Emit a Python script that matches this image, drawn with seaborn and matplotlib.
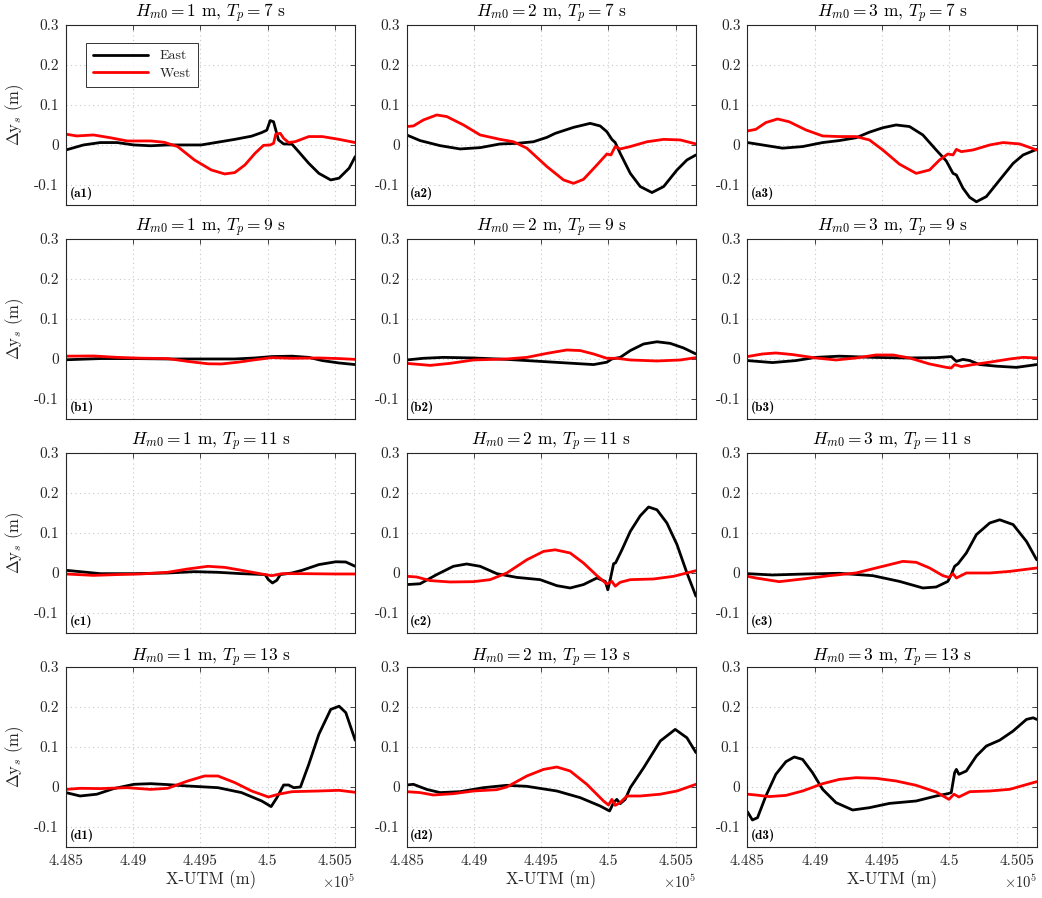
import numpy as np
import pandas as pd
import matplotlib
matplotlib.use("Agg")
import matplotlib.pyplot as plt
import seaborn as sns

# ---------------- data ----------------
a1_east_x = [448500, 448630, 448755, 448880, 449005, 449130, 449255, 449505, 449630, 449755, 449880, 449955, 449993, 450018, 450043, 450060, 450080, 450118, 450180, 450230, 450305, 450380, 450468, 450530, 450605, 450650]
a1_east_y = [-0.0125, 0, 0.006, 0.006, 0, -0.002, 0, 0, 0.007, 0.014, 0.022, 0.031, 0.037, 0.061, 0.058, 0.037, 0.0125, 0.0025, 0.002, -0.017, -0.046, -0.071, -0.0875, -0.083, -0.058, -0.029]
a1_west_x = [448500, 448580, 448705, 448830, 448955, 449130, 449230, 449330, 449455, 449580, 449680, 449755, 449830, 449905, 449968, 450018, 450043, 450060, 450093, 450118, 450155, 450205, 450305, 450405, 450530, 450650]
a1_west_y = [0.027, 0.0225, 0.025, 0.018, 0.01, 0.01, 0.0067, -0.004, -0.0375, -0.0625, -0.0725, -0.069, -0.05, -0.021, -0.001, 0, 0.004, 0.0275, 0.029, 0.0167, 0.006, 0.0083, 0.021, 0.021, 0.014, 0.006]

a2_east_x = [448500, 448599, 448748, 448897, 449046, 449194, 449318, 449442, 449542, 449604, 449740, 449864, 449938, 449988, 450025, 450050, 450087, 450162, 450236, 450323, 450410, 450509, 450583, 450650]
a2_east_y = [0.025, 0.011, -0.0017, -0.01, -0.0067, 0.0025, 0.004, 0.008, 0.019, 0.029, 0.044, 0.054, 0.0475, 0.033, 0.014, 0.006, -0.021, -0.071, -0.104, -0.119, -0.104, -0.0625, -0.0375, -0.025]
a2_west_x = [448500, 448550, 448624, 448723, 448798, 448922, 449046, 449194, 449294, 449393, 449542, 449666, 449740, 449814, 449914, 449988, 450018, 450050, 450087, 450162, 450286, 450410, 450534, 450650]
a2_west_y = [0.046, 0.0475, 0.0625, 0.075, 0.071, 0.05, 0.025, 0.014, 0.008, -0.008, -0.054, -0.0875, -0.096, -0.086, -0.05, -0.0225, -0.025, -0.004, -0.01, -0.004, 0.008, 0.014, 0.0125, 0.0025]

a3_east_x = [448500, 448612, 448761, 448910, 449059, 449183, 449307, 449407, 449506, 449605, 449705, 449804, 449903, 449978, 450028, 450053, 450102, 450152, 450202, 450276, 450375, 450475, 450549, 450650]
a3_east_y = [0.006, 0, -0.008, -0.004, 0.006, 0.011, 0.018, 0.032, 0.043, 0.05, 0.046, 0.025, -0.0125, -0.04, -0.071, -0.075, -0.108, -0.131, -0.142, -0.129, -0.0875, -0.046, -0.025, -0.011]
a3_west_x = [448500, 448562, 448637, 448724, 448810, 448935, 449059, 449183, 449307, 449407, 449506, 449630, 449754, 449854, 449928, 449990, 450028, 450053, 450090, 450177, 450301, 450400, 450524, 450650]
a3_west_y = [0.035, 0.039, 0.056, 0.065, 0.058, 0.0375, 0.0225, 0.021, 0.021, 0.0125, -0.0125, -0.048, -0.071, -0.0625, -0.0375, -0.0225, -0.025, -0.011, -0.0167, -0.0125, 0, 0.006, 0.0025, -0.0125]

b1_east_x = [448500, 448755, 449005, 449255, 449505, 449755, 449905, 450030, 450180, 450305, 450405, 450530, 450650]
b1_east_y = [-0.002, 0.001, 0.001, 0, 0, 0, 0.0025, 0.006, 0.007, 0.004, -0.004, -0.01, -0.014]
b1_west_x = [448500, 448705, 448880, 449055, 449255, 449405, 449555, 449655, 449780, 449905, 450030, 450180, 450380, 450530, 450650]
b1_west_y = [0.007, 0.0075, 0.004, 0.002, 0.001, -0.006, -0.012, -0.0125, -0.008, -0.002, 0.0033, 0.0017, 0.0025, 0.001, -0.001]

b2_east_x = [448500, 448624, 448773, 448996, 449244, 449492, 449740, 449889, 449988, 450025, 450087, 450162, 450261, 450360, 450459, 450558, 450650]
b2_east_y = [-0.0025, 0.0017, 0.004, 0.0025, -0.001, -0.006, -0.011, -0.014, -0.008, 0, 0.004, 0.021, 0.0375, 0.043, 0.039, 0.0275, 0.0125]
b2_west_x = [448500, 448674, 448822, 448996, 449244, 449393, 449542, 449690, 449790, 449889, 449988, 450062, 450162, 450360, 450534, 450650]
b2_west_y = [-0.011, -0.016, -0.011, -0.0025, 0, 0.004, 0.014, 0.0225, 0.021, 0.0125, 0.0017, 0.0017, -0.0025, -0.005, -0.0025, 0.0033]

b3_east_x = [448500, 448686, 448860, 449009, 449183, 449432, 449680, 449903, 450015, 450053, 450102, 450152, 450226, 450351, 450500, 450650]
b3_east_y = [-0.004, -0.009, -0.004, 0.004, 0.007, 0.004, 0.0025, 0.0033, 0.006, -0.006, -0.001, -0.004, -0.014, -0.018, -0.021, -0.014]
b3_west_x = [448500, 448612, 448711, 448835, 449009, 449158, 449307, 449456, 449581, 449705, 449854, 449978, 450015, 450040, 450090, 450177, 450301, 450450, 450549, 450650]
b3_west_y = [0.006, 0.0125, 0.015, 0.011, 0.0025, -0.0025, 0.0025, 0.01, 0.01, 0.0025, -0.0125, -0.021, -0.0225, -0.014, -0.019, -0.014, -0.008, 0, 0.004, 0.0025]

c1_east_x = [448500, 448630, 448755, 449005, 449255, 449455, 449630, 449805, 449980, 450005, 450035, 450068, 450093, 450180, 450255, 450380, 450505, 450580, 450650]
c1_east_y = [0.0067, 0.0025, -0.0017, -0.0017, 0, 0.0033, 0.0017, -0.0017, -0.004, -0.0167, -0.025, -0.018, -0.004, 0, 0.0067, 0.021, 0.028, 0.0275, 0.0167]
c1_west_x = [448500, 448705, 448880, 449055, 449255, 449405, 449555, 449680, 449805, 449955, 450030, 450105, 450255, 450505, 450650]
c1_west_y = [-0.0025, -0.006, -0.004, -0.0025, 0.0017, 0.01, 0.0167, 0.014, 0.0067, -0.0025, -0.0067, -0.0017, -0.0017, -0.0025, -0.0025]

c2_east_x = [448500, 448599, 448723, 448847, 448946, 449046, 449170, 449318, 449492, 449616, 449715, 449814, 449914, 449976, 449995, 450013, 450038, 450052, 450100, 450162, 450236, 450298, 450360, 450434, 450509, 450583, 450650]
c2_east_y = [-0.029, -0.027, -0.004, 0.0167, 0.0225, 0.0167, -0.0017, -0.011, -0.0167, -0.0317, -0.0375, -0.029, -0.0125, -0.021, -0.042, -0.0167, 0.0233, 0.025, 0.058, 0.104, 0.143, 0.165, 0.158, 0.125, 0.071, 0, -0.058]
c2_west_x = [448500, 448574, 448674, 448822, 448996, 449120, 449244, 449393, 449517, 449604, 449715, 449814, 449914, 449988, 450025, 450050, 450087, 450162, 450335, 450484, 450650]
c2_west_y = [-0.0083, -0.01, -0.019, -0.0225, -0.0217, -0.0167, 0, 0.033, 0.054, 0.058, 0.05, 0.025, -0.0067, -0.0275, -0.021, -0.033, -0.0233, -0.0167, -0.015, -0.0083, 0.0058]

c3_east_x = [448500, 448686, 448935, 449183, 449432, 449630, 449804, 449903, 449990, 450015, 450040, 450065, 450127, 450202, 450301, 450375, 450475, 450574, 450650]
c3_east_y = [-0.0017, -0.005, -0.0025, -0.0008, -0.0067, -0.021, -0.0375, -0.035, -0.021, -0.004, 0.0167, 0.023, 0.05, 0.096, 0.125, 0.133, 0.121, 0.079, 0.033]
c3_west_x = [448500, 448562, 448736, 448935, 449109, 449307, 449456, 449655, 449754, 449854, 449953, 449998, 450028, 450053, 450127, 450301, 450450, 450650]
c3_west_y = [-0.0083, -0.0125, -0.0217, -0.014, -0.0067, 0, 0.0125, 0.029, 0.0267, 0.0125, -0.0067, -0.011, -0.0017, -0.0125, 0, 0, 0.004, 0.0125]

d1_east_x = [448500, 448605, 448730, 448855, 449005, 449130, 449255, 449405, 449630, 449805, 449955, 450025, 450068, 450118, 450155, 450193, 450243, 450305, 450380, 450468, 450530, 450580, 450650]
d1_east_y = [-0.014, -0.0225, -0.018, -0.004, 0.0067, 0.0083, 0.006, 0.0025, -0.0017, -0.014, -0.035, -0.049, -0.0267, 0.005, 0.005, -0.0017, 0, 0.0567, 0.132, 0.194, 0.202, 0.186, 0.117]
d1_west_x = [448500, 448605, 448755, 448955, 449130, 449255, 449405, 449530, 449630, 449755, 449880, 450005, 450080, 450180, 450380, 450530, 450650]
d1_west_y = [-0.006, -0.0033, -0.004, -0.0017, -0.006, -0.0033, 0.015, 0.0275, 0.0275, 0.011, -0.01, -0.025, -0.018, -0.0117, -0.01, -0.0083, -0.0133]

d2_east_x = [448500, 448550, 448649, 448748, 448897, 449070, 449244, 449393, 449616, 449790, 449938, 450008, 450038, 450062, 450087, 450124, 450162, 450261, 450385, 450496, 450583, 450650]
d2_east_y = [0.005, 0.0067, -0.006, -0.014, -0.0117, -0.0017, 0.0042, 0.0017, -0.01, -0.0267, -0.0475, -0.06, -0.039, -0.031, -0.0417, -0.031, -0.0017, 0.048, 0.115, 0.144, 0.123, 0.086]
d2_west_x = [448500, 448599, 448698, 448847, 448996, 449170, 449244, 449393, 449517, 449616, 449715, 449839, 449963, 450000, 450025, 450050, 450087, 450137, 450236, 450385, 450509, 450650]
d2_west_y = [-0.0117, -0.014, -0.02, -0.0167, -0.01, -0.0067, 0, 0.0275, 0.044, 0.05, 0.04, 0.0067, -0.035, -0.045, -0.031, -0.046, -0.039, -0.0225, -0.0225, -0.018, -0.01, 0.0067]

d3_east_x = [448500, 448537, 448575, 448637, 448711, 448786, 448848, 448910, 448984, 449059, 449158, 449282, 449407, 449556, 449754, 449903, 449990, 450015, 450040, 450053, 450072, 450127, 450202, 450276, 450375, 450475, 450574, 450624, 450650]
d3_east_y = [-0.0617, -0.0825, -0.0767, -0.0225, 0.0317, 0.0633, 0.075, 0.069, 0.0358, -0.0058, -0.039, -0.0575, -0.0517, -0.041, -0.035, -0.0225, -0.0167, -0.014, 0.0358, 0.044, 0.0317, 0.04, 0.0775, 0.1025, 0.117, 0.14, 0.169, 0.173, 0.169]
d3_west_x = [448500, 448562, 448661, 448786, 448910, 449059, 449183, 449307, 449456, 449605, 449754, 449903, 449998, 450035, 450072, 450152, 450301, 450450, 450650]
d3_west_y = [-0.018, -0.02, -0.024, -0.021, -0.01, 0.0083, 0.019, 0.0233, 0.0217, 0.015, 0.0042, -0.0125, -0.031, -0.018, -0.025, -0.0117, -0.01, -0.0058, 0.0133]

wave_heights = [1, 2, 3]
peak_periods = [7, 9, 11, 13]
row_letters = ["a", "b", "c", "d"]
series_names = ["East", "West"]
x_ticks = [448500, 449000, 449500, 450000, 450500]
x_tick_labels = ["4.485", "4.49", "4.495", "4.5", "4.505"]
y_ticks = [-0.1, 0, 0.1, 0.2, 0.3]
y_tick_labels = ["-0.1", "0", "0.1", "0.2", "0.3"]

panels = {
    "a1": (a1_east_x, a1_east_y, a1_west_x, a1_west_y),
    "a2": (a2_east_x, a2_east_y, a2_west_x, a2_west_y),
    "a3": (a3_east_x, a3_east_y, a3_west_x, a3_west_y),
    "b1": (b1_east_x, b1_east_y, b1_west_x, b1_west_y),
    "b2": (b2_east_x, b2_east_y, b2_west_x, b2_west_y),
    "b3": (b3_east_x, b3_east_y, b3_west_x, b3_west_y),
    "c1": (c1_east_x, c1_east_y, c1_west_x, c1_west_y),
    "c2": (c2_east_x, c2_east_y, c2_west_x, c2_west_y),
    "c3": (c3_east_x, c3_east_y, c3_west_x, c3_west_y),
    "d1": (d1_east_x, d1_east_y, d1_west_x, d1_west_y),
    "d2": (d2_east_x, d2_east_y, d2_west_x, d2_west_y),
    "d3": (d3_east_x, d3_east_y, d3_west_x, d3_west_y),
}

# ---------------- style ----------------
sns.set_theme(style="white")
plt.rcParams["font.family"] = ["cmr10", "DejaVu Serif"]
plt.rcParams["mathtext.fontset"] = "cm"
plt.rcParams["axes.unicode_minus"] = False
plt.rcParams["axes.formatter.use_mathtext"] = True

text_col = "#262626"
fig, axes = plt.subplots(4, 3, figsize=(10.42, 8.98), dpi=100)
fig.subplots_adjust(left=0.0633, right=0.9949, top=0.9722, bottom=0.0568,
                    wspace=0.178, hspace=0.189)

palette = {"East": "black", "West": "red"}

for r, (letter, tp) in enumerate(zip(row_letters, peak_periods)):
    for c, hm in enumerate(wave_heights):
        ax = axes[r, c]
        key = f"{letter}{c + 1}"
        ex, ey, wx, wy = panels[key]
        df = pd.concat([
            pd.DataFrame({"x": ex, "y": ey, "side": "East"}),
            pd.DataFrame({"x": wx, "y": wy, "side": "West"}),
        ], ignore_index=True)
        sns.lineplot(data=df, x="x", y="y", hue="side", hue_order=series_names,
                     palette=palette, estimator=None, sort=False, lw=2.0,
                     ax=ax, legend=(key == "a1"))
        ax.set_xlim(448500, 450650)
        ax.set_ylim(-0.15, 0.3)
        ax.set_xticks(x_ticks)
        ax.set_yticks(y_ticks)
        ax.set_yticklabels(y_tick_labels)
        if r == 3:
            ax.set_xticklabels(x_tick_labels)
            ax.set_xlabel("X-UTM (m)", fontsize=12, color=text_col, labelpad=2)
            ax.text(1.0, -0.195, r"$\times10^{5}$", transform=ax.transAxes,
                    ha="right", va="center", fontsize=10.5, color=text_col)
        else:
            ax.set_xticklabels([])
            ax.set_xlabel("")
        if c == 0:
            ax.set_ylabel(r"$\Delta\mathrm{y}_s$ (m)", fontsize=12, color=text_col, labelpad=6)
        else:
            ax.set_ylabel("")
        ax.set_title(rf"$H_{{m0}} = {hm}$ m, $T_p = {tp}$ s", fontsize=12.5,
                     color="black", pad=4)
        ax.grid(True, linestyle=(0, (1, 3)), color="#c8c8c8", linewidth=0.8)
        ax.tick_params(direction="in", top=True, right=True, length=3.5,
                       width=0.6, colors=text_col, labelsize=11, pad=5)
        for s in ax.spines.values():
            s.set_color(text_col)
            s.set_linewidth(0.8)
            s.set_visible(True)
        ax.text(0.012, 0.025, f"({key})", transform=ax.transAxes,
                ha="left", va="bottom", fontsize=9.5, color="black",
                family=["cmb10", "DejaVu Serif"])
        if key == "a1":
            leg = ax.legend(loc="upper left", bbox_to_anchor=(0.045, 0.94),
                            frameon=True, fancybox=False, edgecolor="black",
                            handlelength=4.0, fontsize=10, borderpad=0.5,
                            labelspacing=0.35, title=None)
            leg.get_frame().set_linewidth(0.7)
            for h in leg.get_lines():
                h.set_linewidth(2.0)

fig.savefig("out.png", dpi=100)
